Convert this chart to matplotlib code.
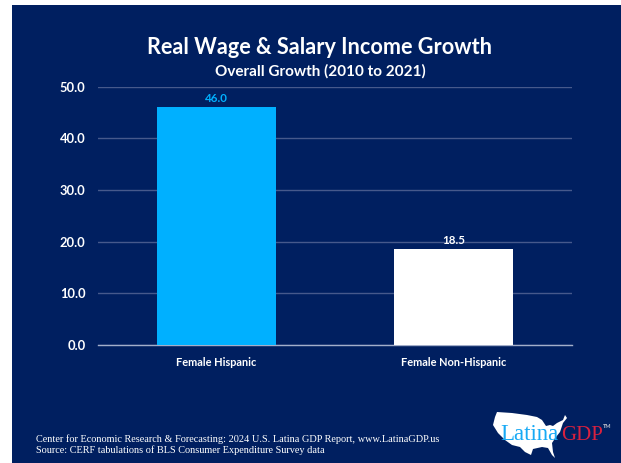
import matplotlib
matplotlib.use("Agg")
import matplotlib.pyplot as plt
from matplotlib.patches import Rectangle, Polygon

W, H = 621, 463
NAVY = "#001f60"
CYAN = "#00b0ff"

categories = ["Female Hispanic", "Female Non-Hispanic"]
values = [46.0, 18.5]
bar_colors = [CYAN, "white"]
label_colors = [CYAN, "white"]
yticks = [0, 10, 20, 30, 40, 50]

# outline of the US for the logo, in pixels from the top left
us_outline = [
    (497, 412), (512, 413), (527, 415), (537, 417), (542, 420), (546, 426), (550, 425),
    (553, 426), (557, 423), (563, 420), (565, 415), (567, 418), (563, 423), (560, 432),
    (556, 437), (552, 443), (553, 452), (555, 458), (552, 455), (548, 448), (542, 447),
    (533, 449), (531, 455), (525, 452), (520, 447), (512, 445), (505, 440), (498, 433),
    (493, 425), (495, 417),
]


def px(x, y):
    return x / W, 1 - y / H


plt.rcParams["font.family"] = ["Lato", "DejaVu Sans"]

fig = plt.figure(figsize=(W / 100, H / 100), dpi=100, facecolor="white")
fig.add_artist(Rectangle((12 / W, 0), (W - 12) / W, 1 - 5 / H, transform=fig.transFigure,
                         facecolor=NAVY, edgecolor="none", zorder=-1))

ax = fig.add_axes([98 / W, 1 - 345 / H, (572 - 98) / W, (345 - 86.5) / H])
ax.patch.set_visible(False)

ax.bar(categories, values, width=0.5, color=bar_colors, zorder=3)
for i, v in enumerate(values):
    ax.text(i, v + 0.7, f"{v:.1f}", ha="center", va="bottom", fontsize=8.3,
            fontweight="bold", color=label_colors[i])

ax.set_xlim(-0.5, 1.5)
ax.set_ylim(0, 50)
ax.set_yticks(yticks)
ax.set_yticklabels([f"{t:.1f}" for t in yticks], fontsize=9.3, fontweight="bold", color="white")
ax.tick_params(axis="y", length=0, pad=9)
ax.tick_params(axis="x", length=0, pad=8.5, labelsize=7.9, labelcolor="white")
for lab in ax.get_xticklabels():
    lab.set_fontweight("bold")
ax.grid(axis="y", color="#46598c", linewidth=1, zorder=1)
ax.set_axisbelow(True)
for s in ["top", "right", "left"]:
    ax.spines[s].set_visible(False)
ax.spines["bottom"].set_color("#a3aeca")
ax.spines["bottom"].set_linewidth(1)

fig.text(*px(319.5, 47), "Real Wage & Salary Income Growth", ha="center", va="center",
         fontsize=15.6, fontweight="bold", color="white")
fig.text(*px(320, 71), "Overall Growth (2010 to 2021)", ha="center", va="center",
         fontsize=11, fontweight="bold", color="white")

# source lines
fig.text(*px(36, 439), "Center for Economic Research & Forecasting: 2024 U.S. Latina GDP Report, www.LatinaGDP.us",
         ha="left", va="center", fontsize=7.4, family="Liberation Serif", color="white")
fig.text(*px(36, 450.5), "Source: CERF tabulations of BLS Consumer Expenditure Survey data",
         ha="left", va="center", fontsize=7.4, family="Liberation Serif", color="white")

# logo
fig.add_artist(Polygon([px(x, y) for x, y in us_outline], closed=True, transform=fig.transFigure,
                       facecolor="white", edgecolor="none"))
fig.text(*px(500, 440), "Latina", ha="left", va="baseline", fontsize=16.5,
         family="Liberation Serif", color="#18aaf5")
fig.text(*px(561, 440), "GDP", ha="left", va="baseline", fontsize=15,
         family="Liberation Serif", color="#d8213f", zorder=5)
fig.text(*px(603, 426), "TM", ha="left", va="center", fontsize=4,
         fontweight="bold", color="#b8bcc8")

fig.savefig("out.png", dpi=100, facecolor=fig.get_facecolor())
